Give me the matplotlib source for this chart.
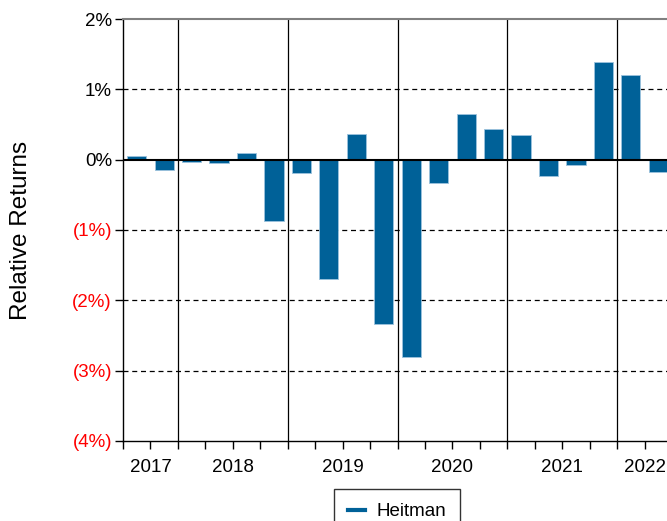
import matplotlib
matplotlib.use('Agg')
import matplotlib.pyplot as plt
from matplotlib.lines import Line2D

plt.rcParams['font.family'] = ['Liberation Sans', 'DejaVu Sans']

# quarterly relative returns (%), 2017 Q3 .. 2022 Q2
quarters = ['2017Q3', '2017Q4',
            '2018Q1', '2018Q2', '2018Q3', '2018Q4',
            '2019Q1', '2019Q2', '2019Q3', '2019Q4',
            '2020Q1', '2020Q2', '2020Q3', '2020Q4',
            '2021Q1', '2021Q2', '2021Q3', '2021Q4',
            '2022Q1', '2022Q2']
returns = [0.055, -0.15,
           -0.035, -0.05, 0.095, -0.87,
           -0.19, -1.69, 0.36, -2.33,
           -2.80, -0.33, 0.645, 0.44,
           0.35, -0.23, -0.075, 1.385,
           1.205, -0.18]
years = ['2017', '2018', '2019', '2020', '2021', '2022']
yticks = [2, 1, 0, -1, -2, -3, -4]

blue = '#006198'

fig = plt.figure(figsize=(6.67, 5.21), dpi=100)
ax = fig.add_axes([123 / 667, 1 - 441 / 521, 549 / 667, 422 / 521])

x = list(range(len(returns)))
ax.bar(x, returns, width=0.7, color=blue, edgecolor='#9cc3dd', linewidth=0.6, zorder=3)

ax.set_xlim(-0.5, len(returns) - 0.5)
ax.set_ylim(-4, 2)

# gridlines
for v in [1, -1, -2, -3]:
    ax.axhline(v, color='black', linestyle=(0, (4, 3)), linewidth=0.9, zorder=1)
ax.axhline(0, color='black', linewidth=1.5, zorder=4)

# year separators + year labels
year_of = [q[:4] for q in quarters]
bounds = []
centers = []
for y in years:
    idx = [i for i, q in enumerate(year_of) if q == y]
    centers.append((idx[0] + idx[-1]) / 2)
    if idx[0] > 0:
        bounds.append(idx[0] - 0.5)
for b in bounds:
    ax.axvline(b, color='black', linewidth=0.9, zorder=2)

ax.xaxis.remove_overlapping_locs = False
ax.set_xticks([i - 0.5 for i in range(len(returns) + 1)])
ax.set_xticklabels([])
ax.set_xticks(centers, minor=True)
ax.set_xticklabels(years, minor=True)
ax.tick_params(axis='x', which='major', direction='out', length=6, width=1)
ax.tick_params(axis='x', which='minor', length=0, pad=13, labelsize=13.5)

def fmt(v):
    return f'{v}%' if v >= 0 else f'({-v}%)'

ax.set_yticks(yticks)
ax.set_yticklabels([fmt(v) for v in yticks], fontsize=13.5)
for lab, v in zip(ax.get_yticklabels(), yticks):
    lab.set_color('red' if v < 0 else 'black')
ax.tick_params(axis='y', direction='out', length=6, width=1, pad=2)

ax.spines['right'].set_visible(False)
ax.spines['top'].set_color('#808080')
ax.spines['top'].set_linewidth(1.5)
ax.spines['left'].set_linewidth(1)
ax.spines['bottom'].set_linewidth(1)

ax.set_ylabel('Relative Returns', fontsize=17.5, labelpad=29)

handle = Line2D([0], [0], color=blue, linewidth=3)
fig.legend([handle], ['Heitman'], loc='upper center', bbox_to_anchor=(397 / 667, 1 - 489 / 521),
           frameon=True, fancybox=False, edgecolor='black', fontsize=13.5,
           handlelength=0.95, handletextpad=0.6, borderpad=0.75, borderaxespad=0)

fig.savefig('out.png', dpi=100)
